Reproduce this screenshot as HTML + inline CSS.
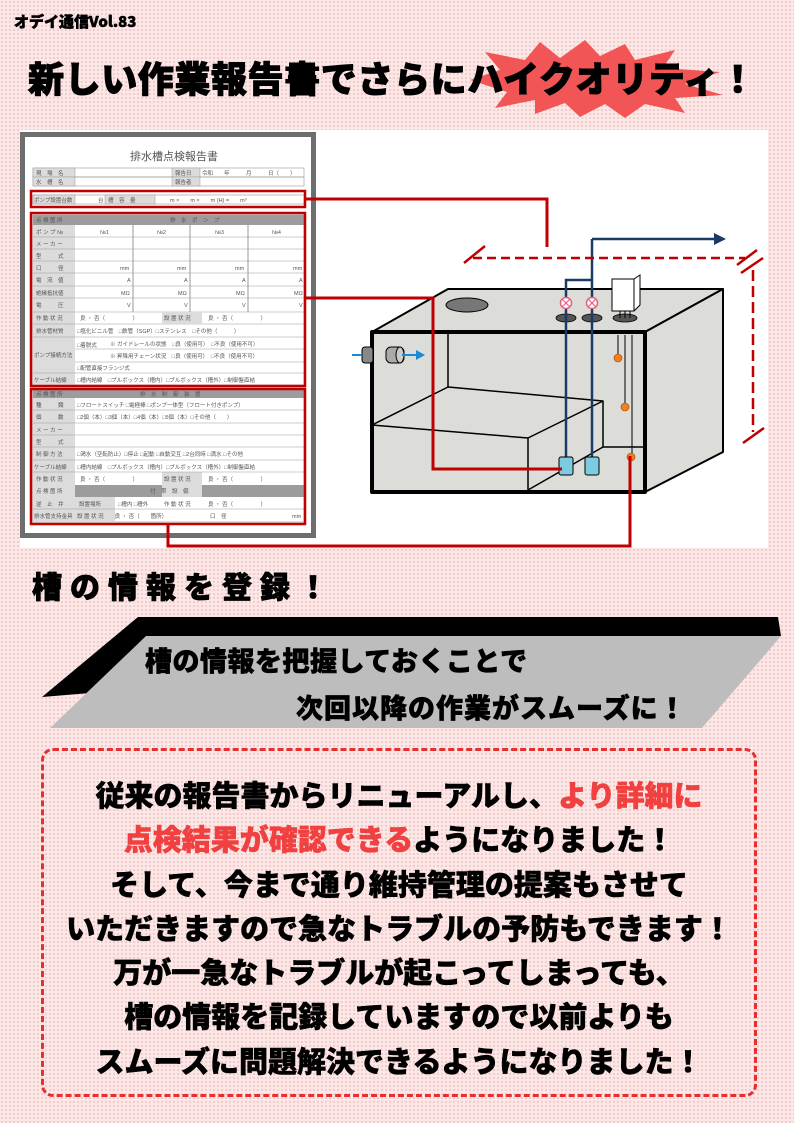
<!DOCTYPE html>
<html><head><meta charset="utf-8"><style>
*{margin:0;padding:0;box-sizing:border-box}
body{width:794px;height:1123px;position:relative;overflow:hidden;background-color:#fde6e6;background-image:radial-gradient(circle,#e6bdbd 0.7px,transparent 1px);background-size:4px 4px;font-family:"Liberation Sans","Noto Sans CJK JP",sans-serif}
.a{position:absolute;white-space:nowrap}
.h{font-family:"Noto Sans CJK JP","Liberation Sans",sans-serif;font-weight:900;color:#000}
</style></head><body>
<div class="a h" style="left:14px;top:11px;font-size:15px;-webkit-text-stroke:0.5px #000">オデイ通信Vol.83</div>
<svg class="a" style="left:0;top:0" width="794" height="140">
<polygon fill="#f25555" points="470,80 500,70 485,52 525,60 540,42 560,58 585,40 600,56 625,44 635,60 675,50 663,68 720,72 685,84 723,95 675,98 685,113 645,104 625,118 605,104 580,117 565,103 535,114 535,100 495,108 507,92"/>
</svg>
<div class="a h" style="left:28px;top:54px;font-size:36px;letter-spacing:0.6px;-webkit-text-stroke:1px #000;line-height:46px">新しい作業報告書でさらにハイクオリティ！</div>

<svg class="a" style="left:0;top:0" width="794" height="560" font-family="Liberation Sans,Noto Sans CJK JP,sans-serif">
<rect x="20" y="130" width="748" height="418" fill="#fff"/>
<rect x="22.5" y="134.5" width="291" height="401" fill="#fff" stroke="#6e6e6e" stroke-width="5"/>
<text x="174" y="160" font-size="11" fill="#555" text-anchor="middle">排水槽点検報告書</text>
<g stroke="#999" stroke-width="0.6" fill="none">
<rect x="33" y="168" width="271" height="9"/><rect x="33" y="177" width="271" height="9"/><rect x="33" y="195" width="271" height="9"/>
</g>
<g fill="#dcdcdc" stroke="#999" stroke-width="0.5">
<rect x="33" y="168" width="42" height="9"/><rect x="33" y="177" width="42" height="9"/><rect x="172" y="168" width="28" height="9"/><rect x="172" y="177" width="28" height="9"/>
<rect x="33" y="195" width="42" height="9"/><rect x="105" y="195" width="50" height="9"/>
</g>
<g font-size="5.5" fill="#555">
<text x="36" y="175">現　場　名</text><text x="36" y="184">水　槽　名</text><text x="175" y="175">報告日</text><text x="175" y="184">報告者</text><text x="202" y="175">令和　　年　　　月　　　日（　　）</text>
<text x="34" y="202">ポンプ設置台数</text><text x="98" y="202">台</text><text x="108" y="202">槽　容　量</text><text x="170" y="202">m ×　　m ×　　m (H) =　　m³</text>
</g>
<rect x="33" y="215" width="271" height="170" fill="#fff" stroke="#999" stroke-width="0.6"/>
<rect x="33" y="215" width="271" height="10" fill="#9c9c9c"/>
<rect x="33" y="225" width="42" height="160" fill="#dcdcdc"/>
<g stroke="#555" stroke-width="0.6">
<line x1="133" y1="225" x2="133" y2="312"/><line x1="190" y1="225" x2="190" y2="312"/><line x1="248" y1="225" x2="248" y2="312"/>
</g>
<g stroke="#999" stroke-width="0.5">
<line x1="33" y1="237" x2="304" y2="237"/><line x1="33" y1="249" x2="304" y2="249"/><line x1="33" y1="261" x2="304" y2="261"/><line x1="33" y1="273" x2="304" y2="273"/><line x1="33" y1="286" x2="304" y2="286"/><line x1="33" y1="298" x2="304" y2="298"/><line x1="33" y1="312" x2="304" y2="312"/><line x1="33" y1="324" x2="304" y2="324"/><line x1="33" y1="337" x2="304" y2="337"/><line x1="75" y1="349" x2="304" y2="349"/><line x1="75" y1="362" x2="304" y2="362"/><line x1="33" y1="373" x2="304" y2="373"/>
</g>
<rect x="162" y="312" width="40" height="12" fill="#dcdcdc"/>
<g font-size="5.5" fill="#555">
<text x="36" y="222">点 検 箇 所</text><text x="170" y="222">排　水　ポ　ン　プ</text>
<text x="36" y="234">ポ ン プ №</text><text x="100" y="234">№1</text><text x="157" y="234">№2</text><text x="215" y="234">№3</text><text x="272" y="234">№4</text>
<text x="36" y="246">メ ー カ ー</text><text x="36" y="258">型　　　式</text><text x="36" y="270">口　　　径</text><text x="36" y="282">電　流　値</text><text x="36" y="295">絶縁抵抗値</text><text x="36" y="307">電　　　圧</text>
<text x="120" y="270">mm</text><text x="177" y="270">mm</text><text x="235" y="270">mm</text><text x="293" y="270">mm</text>
<text x="127" y="282">A</text><text x="184" y="282">A</text><text x="242" y="282">A</text><text x="299" y="282">A</text>
<text x="121" y="295">MΩ</text><text x="178" y="295">MΩ</text><text x="236" y="295">MΩ</text><text x="294" y="295">MΩ</text>
<text x="127" y="307">V</text><text x="184" y="307">V</text><text x="242" y="307">V</text><text x="299" y="307">V</text>
<text x="36" y="320">作 動 状 況</text><text x="80" y="320">良 ・ 否（　　　　　）</text><text x="164" y="320">設 置 状 況</text><text x="208" y="320">良 ・ 否（　　　　　）</text>
<text x="36" y="333">排水管材質</text><text x="77" y="333">□塩化ビニル管　□鉄管（SGP）□ステンレス　□その他（　　　）</text>
<text x="34" y="357">ポンプ接続方法</text><text x="77" y="347">□着脱式</text><text x="110" y="346">※ ガイドレールの状態　□良（使用可）　□不良（使用不可）</text><text x="110" y="358">※ 昇降用チェーン状況　□良（使用可）　□不良（使用不可）</text>
<text x="77" y="370">□配管直接フランジ式</text>
<text x="34" y="382">ケーブル結線</text><text x="77" y="382">□槽内結線　□プルボックス（槽内）□プルボックス（槽外）□制御盤直結</text>
</g>
<rect x="33" y="390" width="271" height="132" fill="#fff" stroke="#999" stroke-width="0.6"/>
<rect x="33" y="390" width="271" height="8" fill="#9c9c9c"/>
<rect x="33" y="485" width="271" height="12" fill="#9c9c9c"/>
<rect x="33" y="398" width="42" height="124" fill="#dcdcdc"/>
<rect x="75" y="497" width="40" height="25" fill="#dcdcdc"/>
<rect x="162" y="472" width="40" height="25" fill="#dcdcdc"/>
<g stroke="#999" stroke-width="0.5">
<line x1="33" y1="410" x2="304" y2="410"/><line x1="33" y1="423" x2="304" y2="423"/><line x1="33" y1="435" x2="304" y2="435"/><line x1="33" y1="447" x2="304" y2="447"/><line x1="33" y1="460" x2="304" y2="460"/><line x1="33" y1="472" x2="304" y2="472"/><line x1="33" y1="509" x2="304" y2="509"/>
</g>
<g font-size="5.5" fill="#555">
<text x="36" y="396">点 検 箇 所</text><text x="140" y="396">排　水　制　御　装　置</text>
<text x="36" y="407">種　　　類</text><text x="77" y="407">□フロートスイッチ □電極棒 □ポンプ一体型（フロート付きポンプ）</text>
<text x="36" y="419">個　　　数</text><text x="77" y="419">□2個（本）□3個（本）□4個（本）□5個（本）□その他（　　）</text>
<text x="36" y="432">メ ー カ ー</text><text x="36" y="444">型　　　式</text>
<text x="36" y="456">制 御 方 法</text><text x="77" y="456">□渇水（空転防止）□停止 □起動 □自動交互 □2台同時 □満水 □その他</text>
<text x="34" y="469">ケーブル結線</text><text x="77" y="469">□槽内結線　□プルボックス（槽内）□プルボックス（槽外）□制御盤直結</text>
<text x="36" y="481">作 動 状 況</text><text x="80" y="481">良 ・ 否（　　　　　）</text><text x="164" y="481">設 置 状 況</text><text x="208" y="481">良 ・ 否（　　　　　）</text>
<text x="36" y="493">点 検 箇 所</text><text x="150" y="493">付　帯　設　備</text>
<text x="36" y="506">逆　止　弁</text><text x="79" y="506">設置場所</text><text x="118" y="506">□槽内 □槽外</text><text x="164" y="506">作 動 状 況</text><text x="208" y="506">良 ・ 否（　　　　　）</text>
<text x="34" y="518">排水管支持金具</text><text x="77" y="518">設 置 状 況　　良 ・ 否（　　箇所）</text><text x="210" y="518">口　径</text><text x="292" y="518">mm</text>
</g>
<g fill="none" stroke="#c00000" stroke-width="2.5">
<rect x="31" y="191" width="274" height="16"/>
<rect x="31" y="213" width="274" height="173"/>
<rect x="31" y="389" width="274" height="135"/>
</g>
<g stroke="#000" stroke-linejoin="round">
<polygon points="372,332 448,289 723,289 645,332" fill="#dcdcd8" stroke-width="2"/>
<polygon points="645,332 723,289 723,452 645,492" fill="#dcdcd8" stroke-width="2"/>
<rect x="372" y="332" width="273" height="160" fill="#dcdcd8" stroke-width="0"/>
<line x1="448" y1="332" x2="448" y2="387" stroke-width="1.5"/>
<polygon points="372,425 448,387 603,401 528,438" fill="#dcdcd8" stroke-width="1.5"/>
<polyline points="528,438 528,492" fill="none" stroke-width="1.5"/>
<polyline points="603,401 603,447 645,447" fill="none" stroke-width="1.5"/>
<line x1="528" y1="490" x2="603" y2="447" stroke-width="1.5"/>
<rect x="372" y="332" width="273" height="160" fill="none" stroke-width="4"/>
</g>
<ellipse cx="467" cy="305" rx="21" ry="7" fill="#777" stroke="#000"/>
<g fill="#555" stroke="#000" stroke-width="0.8">
<ellipse cx="566" cy="318" rx="10" ry="4"/><ellipse cx="592" cy="318" rx="10" ry="4"/><ellipse cx="625" cy="318" rx="12" ry="4"/>
</g>
<g stroke="#1b3a66" stroke-width="2.5" fill="none">
<polyline points="566,458 566,280 592,280"/><line x1="592" y1="458" x2="592" y2="239"/><line x1="592" y1="239" x2="716" y2="239"/>
</g>
<polygon points="714,233 726,239 714,245" fill="#1b3a66"/>
<g fill="#fff" stroke="#e86080" stroke-width="1.5">
<circle cx="566" cy="303" r="5.5"/><circle cx="592" cy="303" r="5.5"/>
</g>
<g stroke="#e86080" stroke-width="1.2"><line x1="562" y1="299" x2="570" y2="307"/><line x1="570" y1="299" x2="562" y2="307"/><line x1="588" y1="299" x2="596" y2="307"/><line x1="596" y1="299" x2="588" y2="307"/></g>
<g stroke="#000" stroke-width="1"><line x1="620" y1="309" x2="620" y2="318"/><line x1="625" y1="309" x2="625" y2="318"/><line x1="630" y1="309" x2="630" y2="318"/></g>
<polygon points="612,279 634,279 640,275 640,305 634,311 612,311" fill="#fff" stroke="#000"/>
<line x1="634" y1="279" x2="634" y2="311" stroke="#000"/>
<g fill="#7ccbe0" stroke="#000" stroke-width="1">
<rect x="559" y="457" width="14" height="18" rx="2"/><rect x="585" y="457" width="14" height="18" rx="2"/>
</g>
<g stroke="#000" stroke-width="1"><line x1="618" y1="335" x2="618" y2="356"/><line x1="625" y1="335" x2="625" y2="405"/><line x1="632" y1="335" x2="632" y2="455"/></g>
<g fill="#f08020" stroke="#a04000" stroke-width="0.6"><circle cx="618" cy="358" r="4"/><circle cx="625" cy="407" r="4"/><circle cx="631" cy="457" r="4"/></g>
<rect x="362" y="347" width="11" height="16" rx="3" fill="#888" stroke="#000"/>
<rect x="386" y="347" width="18" height="16" rx="5" fill="#aaa" stroke="#000"/>
<ellipse cx="400" cy="355" rx="4" ry="8" fill="#ccc" stroke="#000"/>
<g stroke="#1a8ad4" stroke-width="2"><line x1="352" y1="355" x2="362" y2="355"/><line x1="402" y1="355" x2="418" y2="355"/></g>
<polygon points="416,350 425,355 416,360" fill="#1a8ad4"/>
<g stroke="#c00000" stroke-width="2.5" fill="none">
<line x1="473" y1="258" x2="745" y2="258" stroke-dasharray="9,5"/>
<line x1="753" y1="270" x2="753" y2="432" stroke-dasharray="11,5"/>
<line x1="464" y1="263" x2="485" y2="246"/><line x1="737" y1="265" x2="757" y2="250"/><line x1="741" y1="273" x2="763" y2="258"/><line x1="743" y1="443" x2="764" y2="428"/>
</g>
<g stroke="#c00000" stroke-width="3" fill="none">
<polyline points="305,199 547,199 547,247"/>
<polyline points="305,298 433,298 433,469 562,469"/>
<polyline points="168,524 168,546 630,546 630,456"/>
</g>
</svg>

<div class="a h" style="left:32px;top:563px;font-size:30px;letter-spacing:8px;-webkit-text-stroke:0.8px #000">槽の情報を登録！</div>
<svg class="a" style="left:0;top:600px" width="794" height="140">
<polygon points="138,17 778,17 781,36 42,97" fill="#000"/>
<polygon points="146,36 781,36 702,128 50,128" fill="#bdbdbd"/>
</svg>
<div class="a h" style="left:145px;top:640px;font-size:27px;letter-spacing:0.5px;-webkit-text-stroke:0.6px #000">槽の情報を把握しておくことで</div>
<div class="a h" style="left:296px;top:687px;font-size:27px;letter-spacing:1px;-webkit-text-stroke:0.6px #000">次回以降の作業がスムーズに！</div>

<div class="a" style="left:41px;top:748px;width:716px;height:349px;border:3px dashed #e53030;border-radius:12px"></div>
<div class="a h" style="left:41px;top:772px;width:716px;text-align:center;font-size:29px;line-height:44.3px;white-space:normal;-webkit-text-stroke:0.6px #000">
従来の報告書からリニューアルし、<span style="color:#f04040;-webkit-text-stroke:0.6px #f04040">より詳細に</span><br>
<span style="color:#f04040;-webkit-text-stroke:0.6px #f04040">点検結果が確認できる</span>ようになりました！<br>
そして、今まで通り維持管理の提案もさせて<br>
いただきますので急なトラブルの予防もできます！<br>
万が一急なトラブルが起こってしまっても、<br>
槽の情報を記録していますので以前よりも<br>
スムーズに問題解決できるようになりました！
</div>
</body></html>
